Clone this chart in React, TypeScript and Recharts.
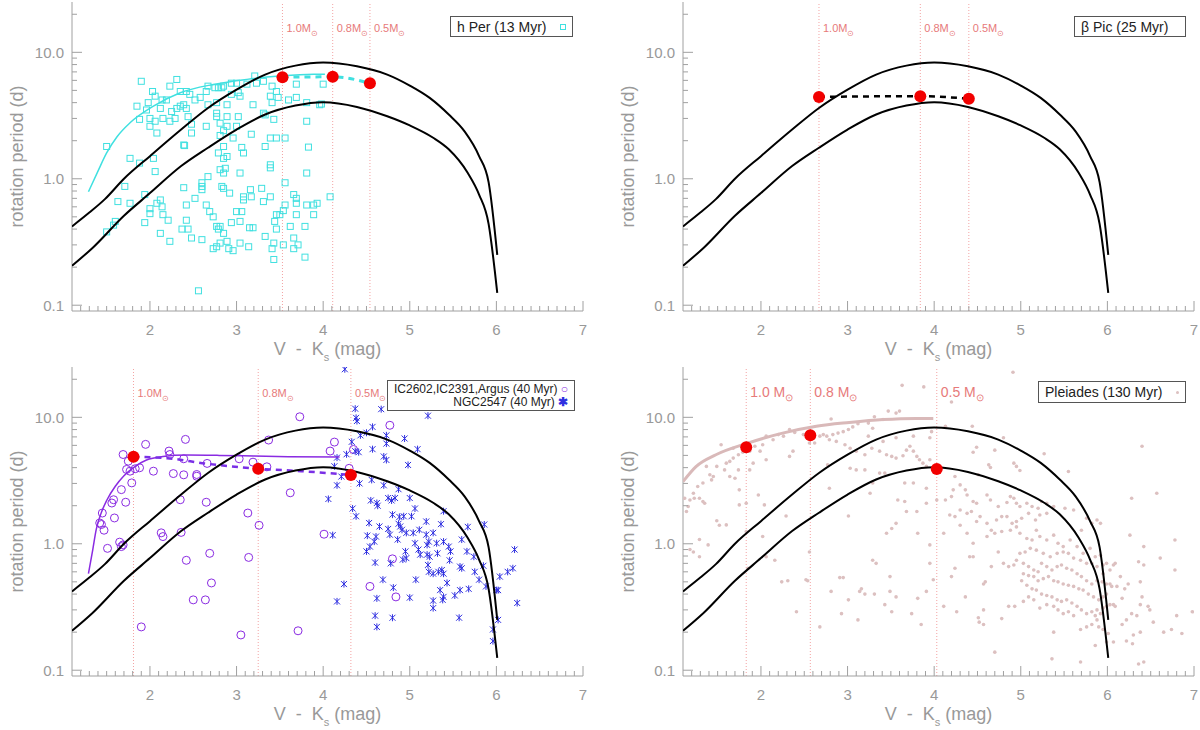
import React from "react";
import { ComposedChart, Scatter, XAxis, YAxis, ReferenceLine, Legend } from "recharts";

type Pt = [number, number];

const X_DOMAIN: [number, number] = [1.1, 7];
const Y_DOMAIN: [number, number] = [0.09, 25];
const X_TICKS = Array.from({ length: 59 }, (_, i) => Math.round((1.2 + i * 0.1) * 10) / 10);
const Y_TICKS = [0.1, 0.2, 0.3, 0.4, 0.5, 0.6, 0.7, 0.8, 0.9, 1, 2, 3, 4, 5, 6, 7, 8, 9, 10, 20];
const Y_MAJOR = [0.1, 1, 10];

// model envelope, same in every panel
const UPPER_ENV: Pt[] = [
  [1.1, 0.42], [1.3, 0.54], [1.48, 0.69], [1.7, 1.0], [2.0, 1.51], [2.36, 2.45], [2.67, 3.63],
  [3.0, 5.07], [3.33, 6.67], [3.68, 7.85], [4.0, 8.3], [4.39, 7.75], [4.74, 6.67], [5.0, 5.46],
  [5.23, 4.36], [5.45, 3.22], [5.63, 2.38], [5.8, 1.51], [5.91, 0.94], [6.01, 0.25],
];
const LOWER_ENV: Pt[] = [
  [1.1, 0.205], [1.34, 0.285], [1.7, 0.51], [2.0, 0.77], [2.36, 1.26], [2.67, 1.76], [3.0, 2.45],
  [3.33, 3.22], [3.68, 3.79], [4.0, 4.03], [4.39, 3.7], [4.74, 3.12], [5.0, 2.64], [5.27, 2.11],
  [5.45, 1.71], [5.67, 1.11], [5.8, 0.75], [5.91, 0.44], [6.01, 0.125],
];

// h Per (13 Myr)
const H_PER: Pt[] = [
  [1.9, 5.9], [2.31, 6.1], [2.03, 4.9], [2.06, 4.5], [2.35, 4.9], [2.42, 4.9], [2.23, 5.4], [2.14, 4.2],
  [2.19, 4.2], [1.98, 4.0], [1.96, 3.5], [1.85, 3.75], [2.12, 3.6], [2.46, 4.65], [2.52, 4.2], [2.39, 3.85],
  [2.31, 3.6], [2.42, 3.6], [2.67, 5.4], [2.65, 4.9], [2.75, 5.25], [2.79, 5.25], [2.83, 5.25], [2.85, 5.4],
  [2.94, 5.7], [3.0, 5.7], [3.02, 4.8], [2.94, 4.65], [3.04, 4.5], [3.12, 5.6], [3.21, 6.5], [3.23, 5.7],
  [3.31, 5.9], [3.41, 5.4], [3.39, 4.5], [3.46, 4.9], [3.41, 4.0], [3.48, 4.4], [3.6, 4.2], [3.69, 4.4],
  [3.69, 5.6], [3.19, 3.85], [2.89, 3.85], [2.77, 4.0], [2.67, 3.85], [2.58, 4.4], [2.25, 3.4], [2.15, 3.0],
  [2.06, 2.85], [2.0, 3.0], [1.88, 2.95], [2.0, 2.6], [2.08, 2.3], [2.23, 2.85], [2.29, 3.0], [2.35, 3.75],
  [2.44, 3.1], [2.48, 2.7], [2.48, 2.3], [2.65, 2.6], [2.77, 3.3], [2.77, 3.1], [2.81, 2.75], [2.89, 3.1],
  [3.02, 3.1], [3.0, 2.6], [2.89, 2.6], [2.85, 2.4], [2.81, 2.2], [2.96, 2.1], [3.17, 2.25], [3.31, 3.3],
  [3.33, 3.2], [3.43, 2.95], [3.39, 2.1], [3.46, 2.1], [3.56, 2.1], [3.81, 2.85], [3.96, 3.85], [3.81, 4.0],
  [2.39, 1.85], [2.4, 1.83], [2.85, 1.8], [3.06, 1.77], [3.33, 1.8], [3.83, 1.78], [1.5, 1.8], [1.77, 1.45],
  [1.88, 1.33], [2.04, 1.45], [2.06, 1.14], [2.79, 1.6], [2.85, 1.45], [2.89, 1.5], [3.08, 1.6], [2.81, 1.18],
  [2.87, 1.21], [2.85, 1.11], [3.04, 1.11], [3.39, 1.29], [3.39, 1.22], [3.81, 1.11], [2.67, 1.04], [1.71, 0.87],
  [1.63, 0.66], [1.77, 0.64], [1.94, 0.75], [2.12, 0.68], [2.08, 0.64], [2.14, 0.6], [2.0, 0.58], [2.0, 0.53],
  [2.15, 0.52], [2.21, 0.47], [1.94, 0.45], [1.6, 0.46], [1.58, 0.43], [1.5, 0.38], [2.12, 0.37], [2.23, 0.32],
  [2.39, 0.85], [2.52, 0.7], [2.6, 0.93], [2.6, 0.87], [2.6, 0.82], [2.65, 0.62], [2.69, 0.55], [2.42, 0.62],
  [2.42, 0.47], [2.37, 0.4], [2.44, 0.4], [2.48, 0.34], [2.6, 0.33], [2.73, 0.5], [2.77, 0.42], [2.83, 0.87],
  [2.85, 0.84], [2.92, 0.77], [3.08, 0.72], [3.08, 0.68], [3.16, 0.82], [3.17, 0.72], [3.29, 0.84], [3.31, 0.66],
  [3.39, 0.72], [3.56, 0.93], [3.66, 0.75], [3.69, 0.7], [3.69, 0.64], [3.56, 0.62], [3.54, 0.56], [3.5, 0.52],
  [3.46, 0.52], [3.44, 0.46], [3.46, 0.4], [3.33, 0.35], [3.19, 0.41], [3.15, 0.41], [3.04, 0.46], [3.0, 0.55],
  [3.06, 0.55], [2.94, 0.45], [2.81, 0.42], [2.79, 0.4], [2.85, 0.37], [2.89, 0.32], [2.81, 0.31], [2.77, 0.29],
  [2.73, 0.28], [2.91, 0.28], [2.96, 0.27], [3.04, 0.31], [3.14, 0.29], [3.43, 0.31], [3.41, 0.28], [3.54, 0.3],
  [3.66, 0.34], [3.71, 0.3], [3.66, 0.28], [3.79, 0.42], [3.89, 0.62], [3.93, 0.64], [3.89, 0.52], [3.81, 0.62],
  [3.69, 0.52], [3.62, 0.42], [4.08, 0.72], [3.79, 0.24], [3.43, 0.23], [2.56, 0.13], [4.0, 5.6], [3.98, 3.9],
];
const H_PER_FIT: Pt[] = [
  [1.29, 0.79], [1.4, 1.15], [1.5, 1.6], [1.62, 2.15], [1.77, 2.77], [2.04, 3.75], [2.35, 4.79],
  [2.73, 5.57], [3.12, 6.11], [3.5, 6.49], [3.89, 6.7], [4.02, 6.7],
];
const H_PER_MASS: Pt[] = [[3.53, 6.36], [4.11, 6.4], [4.54, 5.7]];

// beta Pic (25 Myr)
const BPIC_MASS: Pt[] = [[2.67, 4.44], [3.84, 4.5], [4.4, 4.29]];

// IC2602, IC2391, Argus (40 Myr)
const IC_STARS: Pt[] = [
  [1.69, 5.08], [1.75, 4.5], [1.73, 3.87], [1.77, 3.75], [1.83, 3.92], [1.88, 3.99], [1.95, 6.11], [2.04, 3.75],
  [2.22, 5.41], [2.23, 5.08], [2.39, 4.7], [2.41, 6.69], [2.27, 3.59], [2.39, 3.51], [2.54, 3.42], [2.54, 3.53],
  [2.66, 4.32], [3.03, 4.7], [3.19, 4.42], [3.35, 4.06], [3.37, 6.61], [3.73, 10.1], [4.13, 6.37], [4.08, 5.41],
  [4.77, 8.65], [1.79, 3.03], [1.67, 2.68], [1.58, 2.23], [1.56, 2.1], [1.72, 2.13], [1.45, 1.75], [1.42, 1.46],
  [1.44, 1.42], [1.47, 1.28], [1.59, 1.6], [1.65, 1.03], [1.69, 0.98], [1.67, 0.95], [1.51, 0.92], [2.13, 1.22],
  [2.15, 1.14], [2.35, 2.23], [2.36, 1.23], [2.65, 2.13], [3.13, 1.75], [3.26, 1.4], [3.62, 2.53], [4.01, 1.19],
  [2.42, 0.74], [2.69, 0.84], [3.14, 0.78], [2.71, 0.49], [2.5, 0.36], [2.64, 0.36], [1.9, 0.22], [3.05, 0.19],
  [3.71, 0.205], [4.54, 0.46], [4.84, 0.38], [4.8, 0.76], [4.35, 5.57], [4.3, 3.95],
];
const IC_FIT: Pt[] = [
  [1.29, 0.58], [1.34, 0.9], [1.38, 1.3], [1.43, 1.7], [1.5, 2.2], [1.6, 2.85], [1.7, 3.45], [1.83, 4.1],
  [1.96, 4.6], [2.15, 4.9], [2.42, 5.03], [2.8, 5.0], [3.2, 4.94], [3.6, 4.88], [4.19, 4.85],
];
const IC_MASS: Pt[] = [[1.81, 4.87], [3.25, 3.92], [4.32, 3.5]];
const IC_TRACK: Pt[] = [[1.81, 4.87], [2.2, 4.75], [2.65, 4.3], [3.25, 3.92], [3.75, 3.75], [4.32, 3.5]];

// NGC2547 (40 Myr)
const NGC_STARS: Pt[] = [
  [4.37, 11.7], [4.67, 11.6], [4.38, 9.9], [4.39, 9.35], [5.21, 10.3], [4.57, 8.4], [4.5, 7.55], [4.43, 7.2],
  [4.73, 7.2], [4.94, 6.8], [4.33, 6.4], [4.73, 6.2], [4.57, 5.6], [4.27, 5.1], [4.41, 5.3], [4.37, 5.4],
  [4.7, 4.9], [4.73, 4.6], [4.16, 4.8], [4.13, 4.1], [4.98, 4.2], [5.09, 5.6], [4.21, 3.4], [4.16, 2.9],
  [4.42, 3.0], [4.56, 3.2], [4.7, 2.9], [4.87, 2.7], [5.0, 2.3], [4.55, 2.2], [4.62, 2.1], [4.63, 2.0],
  [4.75, 2.3], [4.79, 2.2], [4.83, 2.3], [5.06, 1.9], [4.34, 1.9], [4.38, 1.65], [4.06, 2.26], [4.11, 1.17],
  [4.53, 1.46], [4.65, 1.37], [4.8, 1.7], [4.88, 1.63], [4.93, 1.65], [5.02, 1.65], [5.19, 1.5], [5.36, 1.43],
  [5.67, 1.36], [5.86, 1.42], [5.39, 1.81], [4.51, 1.16], [4.61, 1.14], [4.59, 1.04], [4.54, 0.95], [4.5, 0.87],
  [4.75, 1.31], [4.77, 1.18], [4.87, 1.44], [4.89, 1.37], [4.91, 1.29], [4.86, 1.08], [4.96, 1.22], [5.04, 1.22],
  [5.11, 1.29], [5.19, 1.18], [5.22, 1.04], [5.2, 0.98], [5.27, 1.22], [5.06, 1.01], [5.1, 0.9], [5.31, 1.01],
  [5.39, 1.04], [5.45, 0.95], [5.47, 0.87], [5.6, 1.08], [5.66, 0.87], [4.95, 0.87], [4.96, 0.77], [4.92, 0.75],
  [5.12, 0.82], [5.2, 0.82], [5.23, 0.79], [5.32, 0.84], [5.46, 0.74], [5.21, 0.68], [5.22, 0.6], [5.27, 0.58],
  [5.33, 0.6], [5.37, 0.62], [5.39, 0.58], [5.58, 0.66], [5.6, 0.64], [5.74, 0.79], [5.75, 0.6], [5.85, 0.67],
  [6.04, 0.55], [6.13, 0.6], [6.19, 0.64], [6.21, 0.9], [5.8, 0.52], [5.88, 0.46], [6.0, 0.43], [6.02, 0.43],
  [5.07, 0.52], [4.6, 0.71], [4.78, 0.7], [4.69, 0.52], [4.81, 0.45], [5.35, 0.43], [5.43, 0.49], [5.52, 0.39],
  [5.58, 0.43], [5.68, 0.44], [5.0, 0.375], [4.62, 0.37], [5.27, 0.355], [5.39, 0.38], [5.38, 0.36], [5.27, 0.31],
  [5.57, 0.26], [6.24, 0.34], [4.24, 0.48], [4.16, 0.35], [4.6, 0.27], [4.8, 0.26], [4.62, 0.22], [5.96, 0.21],
  [6.02, 0.25], [5.96, 0.17], [4.25, 24],
];

// Pleiades (130 Myr)
const PLEIADES: Pt[] = [
  [3.63, 17.9], [3.88, 17.4], [3.47, 11.2], [3.56, 10.8], [3.6, 11.2], [2.81, 9.7], [3.31, 10.1], [3.41, 9.6],
  [3.24, 9.0], [3.12, 8.9], [3.06, 8.4], [3.29, 8.2], [3.01, 8.0], [2.95, 7.7], [2.89, 7.5], [2.83, 7.3],
  [2.76, 7.1], [2.72, 7.3], [2.68, 7.1], [2.79, 6.65], [2.87, 6.45], [2.97, 6.07], [3.03, 5.7], [3.1, 5.4],
  [3.2, 5.06], [3.28, 5.7], [3.37, 5.4], [3.45, 5.06], [3.51, 4.91], [3.56, 4.76], [3.64, 4.97], [3.68, 5.5],
  [3.72, 5.9], [3.76, 5.4], [3.8, 4.91], [3.83, 4.62], [3.87, 4.34], [3.91, 4.09], [3.95, 4.62], [3.97, 7.7],
  [3.95, 6.9], [3.76, 7.1], [3.56, 6.9], [3.41, 6.45], [3.24, 7.1], [2.62, 6.26], [2.49, 7.3], [2.39, 7.6],
  [2.33, 8.0], [2.26, 7.1], [2.2, 7.3], [2.14, 6.65], [2.06, 7.1], [2.02, 6.07], [1.99, 5.4], [1.93, 5.9],
  [1.87, 5.4], [1.79, 5.3], [1.74, 5.06], [1.68, 4.76], [1.64, 4.48], [1.6, 4.34], [1.58, 3.84], [1.54, 6.07],
  [1.68, 5.7], [1.49, 4.09], [1.45, 3.4], [1.43, 3.2], [1.41, 3.51], [1.37, 4.09], [1.33, 3.02], [1.27, 2.84],
  [1.22, 2.51], [1.18, 2.22], [1.16, 1.97], [1.14, 1.8], [1.29, 2.29], [1.33, 2.16], [1.35, 2.09], [1.23, 2.29],
  [1.12, 2.29], [1.64, 3.4], [1.7, 3.3], [1.75, 2.67], [1.74, 3.84], [2.33, 4.91], [2.37, 5.4], [2.56, 6.26],
  [2.06, 4.62], [1.91, 4.34], [1.87, 3.84], [1.97, 2.43], [1.83, 2.09], [1.75, 2.03], [1.6, 1.41], [1.52, 1.4],
  [1.49, 1.52], [1.29, 1.08], [1.39, 0.98], [1.18, 0.9], [1.22, 0.86], [1.29, 0.79], [1.83, 1.25], [1.85, 0.64],
  [2.02, 1.14], [2.06, 0.79], [2.16, 0.74], [2.29, 1.66], [2.04, 2.03], [2.24, 0.5], [2.31, 0.51], [2.41, 0.29],
  [2.52, 0.52], [2.54, 0.51], [2.68, 0.22], [2.81, 0.42], [2.91, 0.54], [2.95, 0.54], [2.93, 0.28], [3.01, 0.36],
  [3.12, 0.25], [3.14, 0.42], [3.16, 0.44], [3.2, 0.4], [3.29, 0.74], [3.33, 0.7], [3.31, 0.4], [3.43, 0.33],
  [3.49, 0.55], [3.49, 0.42], [3.51, 0.29], [3.56, 0.38], [3.74, 0.28], [3.81, 0.37], [3.85, 0.23], [3.91, 0.42],
  [3.99, 0.52], [3.95, 0.7], [3.56, 1.45], [3.51, 1.32], [3.45, 1.21], [3.68, 1.8], [3.66, 2.16], [3.8, 1.8],
  [3.81, 1.21], [3.91, 2.09], [3.91, 2.75], [3.76, 3.02], [3.66, 3.02], [3.58, 2.22], [3.37, 3.62], [3.29, 3.02],
  [3.2, 3.84], [3.03, 3.96], [2.77, 4.21], [2.79, 2.75], [3.01, 1.66], [3.1, 3.84], [3.43, 3.62], [4.03, 2.22],
  [2.56, 0.86], [3.26, 2.51], [3.95, 0.98],
  [4.91, 22.7], [4.2, 13.2], [4.13, 8.5], [4.44, 8.5], [4.49, 5.8], [4.45, 5.3], [4.7, 5.5], [4.8, 6.9],
  [5.27, 5.15], [5.55, 3.73], [4.92, 4.34], [4.99, 3.8], [4.95, 4.09], [4.63, 4.21], [4.65, 4.01], [4.51, 3.51],
  [4.24, 3.4], [4.3, 2.92], [4.22, 2.67], [4.36, 2.67], [4.38, 2.43], [4.2, 2.36], [4.13, 2.22], [4.45, 2.16],
  [4.49, 2.09], [4.61, 2.43], [4.65, 2.22], [4.74, 1.97], [4.84, 2.12], [4.88, 2.36], [4.92, 2.29], [4.95, 2.09],
  [4.99, 1.97], [5.07, 2.09], [5.13, 1.97], [5.2, 1.91], [5.24, 2.16], [5.3, 2.09], [5.38, 1.97], [5.51, 1.91],
  [5.61, 1.85], [5.76, 1.59], [5.82, 1.45], [5.88, 1.54], [5.92, 1.45], [5.7, 1.28], [5.3, 1.74], [5.22, 1.69],
  [5.17, 1.54], [5.09, 1.74], [5.01, 1.59], [4.95, 1.5], [4.9, 1.45], [4.84, 1.64], [4.78, 1.64], [4.72, 1.54],
  [4.66, 1.28], [4.61, 1.45], [4.53, 1.64], [4.49, 1.5], [4.43, 1.8], [4.38, 1.74], [4.3, 1.85], [4.24, 1.64],
  [4.18, 1.69], [4.11, 1.21], [4.3, 1.4], [4.38, 1.21], [4.45, 1.01], [4.61, 1.14], [4.7, 1.21], [4.78, 1.25],
  [4.88, 1.28], [4.95, 1.36], [4.99, 1.21], [5.07, 1.1], [5.13, 1.07], [5.18, 1.28], [5.22, 1.14], [5.3, 1.07],
  [5.38, 1.17], [5.43, 1.01], [5.49, 0.95], [5.57, 1.07], [5.65, 0.95], [5.72, 0.84], [5.8, 0.92], [5.86, 0.79],
  [5.92, 0.81], [5.99, 0.7], [6.07, 0.68], [6.03, 0.62], [5.95, 0.58], [5.88, 0.66], [5.82, 0.7], [5.76, 0.7],
  [5.69, 0.74], [5.61, 0.77], [5.55, 0.84], [5.49, 0.86], [5.42, 0.84], [5.34, 0.79], [5.26, 0.84], [5.18, 0.89],
  [5.11, 0.92], [5.05, 0.86], [4.99, 0.84], [4.95, 0.74], [4.92, 0.68], [4.86, 0.66], [4.8, 0.7], [4.74, 0.86],
  [4.66, 0.66], [4.59, 0.5], [4.57, 0.48], [4.45, 0.79], [4.41, 0.79], [4.36, 0.38], [4.26, 0.29], [4.11, 0.32],
  [4.24, 0.64], [4.2, 0.55], [5.03, 0.7], [5.09, 0.66], [5.15, 0.62], [5.2, 0.6], [5.24, 0.7], [5.3, 0.66],
  [5.36, 0.62], [5.42, 0.66], [5.47, 0.68], [5.53, 0.64], [5.59, 0.62], [5.65, 0.58], [5.7, 0.55], [5.76, 0.51],
  [5.82, 0.48], [5.88, 0.51], [5.94, 0.5], [5.99, 0.48], [6.05, 0.46], [5.99, 0.4], [5.95, 0.38], [5.9, 0.36],
  [5.84, 0.38], [5.78, 0.4], [5.72, 0.43], [5.67, 0.44], [5.61, 0.46], [5.55, 0.47], [5.49, 0.48], [5.43, 0.5],
  [5.38, 0.51], [5.32, 0.55], [5.26, 0.53], [5.2, 0.51], [5.15, 0.55], [5.09, 0.56], [5.03, 0.58], [5.01, 0.51],
  [5.07, 0.47], [5.13, 0.44], [5.18, 0.43], [5.24, 0.4], [5.3, 0.39], [5.36, 0.38], [5.42, 0.36], [5.47, 0.35],
  [5.53, 0.36], [5.59, 0.34], [5.65, 0.32], [5.7, 0.3], [5.76, 0.28], [5.82, 0.29], [5.88, 0.3], [5.92, 0.28],
  [5.95, 0.31], [5.99, 0.32], [6.03, 0.33], [6.09, 0.32], [5.86, 0.27], [5.88, 0.25], [5.9, 0.22], [5.95, 0.21],
  [6.01, 0.195], [5.82, 0.23], [5.76, 0.22], [5.69, 0.21], [5.61, 0.27], [5.55, 0.29], [5.49, 0.28], [5.43, 0.3],
  [5.38, 0.32], [5.3, 0.33], [5.22, 0.31], [5.15, 0.36], [5.09, 0.38], [5.03, 0.35], [4.93, 0.32], [4.86, 0.32],
  [4.78, 0.256], [4.57, 0.3], [4.51, 0.26], [4.52, 0.24], [4.57, 0.23], [4.7, 0.139], [5.38, 0.2], [5.36, 0.123],
  [5.69, 0.116], [5.86, 0.157], [5.99, 0.167], [6.07, 0.167], [6.22, 0.17], [6.29, 0.162], [6.3, 0.19], [6.36, 0.112],
  [6.42, 0.116], [6.38, 0.2], [6.47, 0.32], [6.49, 0.3], [6.53, 0.24], [6.65, 0.2], [6.74, 0.21], [6.8, 0.27],
  [6.86, 0.195], [6.78, 0.62], [6.61, 0.77], [6.42, 0.68], [6.36, 0.72], [6.24, 0.48], [6.2, 0.44], [6.38, 0.5],
  [6.4, 0.38], [6.38, 0.33], [6.28, 0.28], [6.22, 0.25], [6.17, 0.37], [6.07, 0.33], [6.17, 0.23], [6.34, 0.27],
  [6.42, 0.95], [6.26, 1.17], [6.78, 1.07], [6.57, 2.51], [6.28, 2.29], [6.4, 5.9], [6.09, 0.7], [5.95, 0.68],
  [6.03, 0.48], [6.11, 0.46], [6.15, 0.55], [6.98, 0.29],
];
const PLEIADES_FIT: Pt[] = [
  [1.1, 3.1], [1.25, 4.08], [1.48, 5.06], [1.83, 6.2], [2.25, 7.5], [2.64, 8.5], [3.02, 9.1], [3.41, 9.6],
  [3.79, 9.8], [3.99, 9.8],
];
const PLEIADES_MASS: Pt[] = [[1.83, 5.8], [2.57, 7.2], [4.03, 3.9]];

const MASS_NAMES = ["1.0", "0.8", "0.5"];

const AXIS = "#a0a0a0";
const TEXT = "#999";
const FONT = "'Liberation Sans', Arial, sans-serif";
const MASS_COLOR = "#e77a7a";
const CYAN = "#40e0e0";
const PURPLE = "#8a2be2";
const NGC_BLUE = "#2f2fe0";
const PINK = "#dcc0c0";
const PINK_FIT = "#d9b9b9";
const RED = "#f20000";

const pts = (a: Pt[]) => a.map(([x, y]) => ({ x, y }));
const isMajorX = (v: number) => Math.abs(v - Math.round(v)) < 1e-6;

const BottomTick = (p: any) => {
  const v = p.payload.value;
  const major = isMajorX(v);
  return (
    <g>
      <line x1={p.x} x2={p.x} y1={p.y} y2={p.y - (major ? 10 : 5)} stroke={AXIS} />
      {major && (
        <text x={p.x} y={p.y + 24} textAnchor="middle" fontSize={15} fill={TEXT} fontFamily={FONT}>
          {v}
        </text>
      )}
    </g>
  );
};
const TopTick = (p: any) => {
  const major = isMajorX(p.payload.value);
  return <line x1={p.x} x2={p.x} y1={p.y} y2={p.y + (major ? 10 : 5)} stroke={AXIS} />;
};
const LeftTick = (p: any) => {
  const v = p.payload.value;
  const major = Y_MAJOR.includes(v);
  return (
    <g>
      <line x1={p.x} x2={p.x + (major ? 10 : 5)} y1={p.y} y2={p.y} stroke={AXIS} />
      {major && (
        <text x={p.x - 8} y={p.y} dy="0.36em" textAnchor="end" fontSize={15} fill={TEXT} fontFamily={FONT}>
          {v < 1 ? "0.1" : v.toFixed(1)}
        </text>
      )}
    </g>
  );
};
const RightTick = (p: any) => {
  const major = Y_MAJOR.includes(p.payload.value);
  return <line x1={p.x} x2={p.x - (major ? 10 : 5)} y1={p.y} y2={p.y} stroke={AXIS} />;
};

const XTitle = (p: any) => {
  const vb = p.viewBox;
  return (
    <text x={vb.x + vb.width / 2} y={vb.y + 44} textAnchor="middle" fontSize={18} fill={TEXT} fontFamily={FONT}>
      {"V\u00a0\u00a0-\u00a0\u00a0K"}
      <tspan fontSize={11} dy={6}>s</tspan>
      <tspan dy={-6}>{"\u00a0(mag)"}</tspan>
    </text>
  );
};
const YTitle = (p: any) => {
  const vb = p.viewBox;
  const cy = vb.y + vb.height / 2;
  return (
    <text x={17} y={cy} transform={`rotate(-90 17 ${cy})`} textAnchor="middle" dominantBaseline="central" fontSize={18} fill={TEXT} fontFamily={FONT}>
      rotation period (d)
    </text>
  );
};

const square = (p: any) => (
  <rect x={p.cx - 3} y={p.cy - 3} width={6} height={6} fill="none" stroke={CYAN} strokeWidth={1} />
);
const ring = (p: any) => <circle cx={p.cx} cy={p.cy} r={4} fill="none" stroke={PURPLE} strokeWidth={1} />;
const asterisk = (p: any) => (
  <g stroke={NGC_BLUE} strokeWidth={1}>
    <line x1={p.cx - 3} y1={p.cy - 3} x2={p.cx + 3} y2={p.cy + 3} />
    <line x1={p.cx - 3} y1={p.cy + 3} x2={p.cx + 3} y2={p.cy - 3} />
    <line x1={p.cx} y1={p.cy - 3.5} x2={p.cx} y2={p.cy + 3.5} />
  </g>
);
const dot = (p: any) => <circle cx={p.cx} cy={p.cy} r={1.8} fill={PINK} />;
const bigRed = (p: any) => <circle cx={p.cx} cy={p.cy} r={6} fill={RED} />;
const none = () => <g />;

const marks = (key: string, data: Pt[], shape: any) => (
  <Scatter key={key} xAxisId="b" yAxisId="l" data={pts(data)} shape={shape} isAnimationActive={false} />
);
const curve = (key: string, data: Pt[], stroke: string, width: number, dash?: string) => (
  <Scatter
    key={key}
    xAxisId="b"
    yAxisId="l"
    data={pts(data)}
    shape={none}
    line={{ stroke, strokeWidth: width, strokeDasharray: dash, fill: "none" }}
    lineJointType="monotoneX"
    isAnimationActive={false}
  />
);

const legendBox = (left: number, top: number, width: number, height: number, body: React.ReactNode) => (
  <Legend
    layout="vertical"
    align="center"
    verticalAlign="middle"
    wrapperStyle={{ position: "absolute", left, top, width, height, margin: 0 }}
    content={() => (
      <div
        style={{
          boxSizing: "border-box",
          width,
          height,
          border: "1px solid #555",
          background: "#fff",
          fontFamily: FONT,
          color: "#222",
          display: "flex",
          flexDirection: "column",
          justifyContent: "center",
          padding: "0 6px",
        }}
      >
        {body}
      </div>
    )}
  />
);

function Panel({
  left,
  top,
  masses,
  massSpaced,
  legend,
  children,
}: {
  left: number;
  top: number;
  masses: Pt[];
  massSpaced?: boolean;
  legend: React.ReactNode;
  children: React.ReactNode[];
}) {
  return (
    <div style={{ position: "absolute", left, top }}>
      <ComposedChart width={600} height={365} margin={{ top: 2, right: 17, bottom: 0, left: 0 }}>
        <XAxis
          xAxisId="b"
          type="number"
          dataKey="x"
          domain={X_DOMAIN}
          allowDataOverflow
          ticks={X_TICKS}
          interval={0}
          tick={BottomTick}
          tickLine={false}
          tickSize={0}
          tickMargin={0}
          axisLine={{ stroke: AXIS }}
          height={54}
          label={{ content: XTitle }}
        />
        <XAxis
          xAxisId="t"
          orientation="top"
          type="number"
          domain={X_DOMAIN}
          allowDataOverflow
          ticks={X_TICKS}
          interval={0}
          tick={TopTick}
          tickLine={false}
          tickSize={0}
          tickMargin={0}
          axisLine={{ stroke: AXIS }}
          height={0}
        />
        <YAxis
          yAxisId="l"
          type="number"
          dataKey="y"
          scale="log"
          domain={Y_DOMAIN}
          allowDataOverflow
          ticks={Y_TICKS}
          interval={0}
          tick={LeftTick}
          tickLine={false}
          tickSize={0}
          tickMargin={0}
          axisLine={{ stroke: AXIS }}
          width={72}
          label={{ content: YTitle }}
        />
        <YAxis
          yAxisId="r"
          orientation="right"
          type="number"
          scale="log"
          domain={Y_DOMAIN}
          allowDataOverflow
          ticks={Y_TICKS}
          interval={0}
          tick={RightTick}
          tickLine={false}
          tickSize={0}
          tickMargin={0}
          axisLine={{ stroke: AXIS }}
          width={0}
        />
        {masses.map(([mx], i) => (
          <ReferenceLine
            key={`m${i}`}
            xAxisId="b"
            yAxisId="l"
            x={mx}
            stroke="#f3a3a3"
            strokeWidth={1}
            strokeDasharray="1 2"
            label={{
              content: (lp: any) => (
                <text
                  x={lp.viewBox.x + 4}
                  y={lp.viewBox.y + 30}
                  fontSize={massSpaced ? 14 : 11}
                  fill={MASS_COLOR}
                  fontFamily={FONT}
                >
                  {MASS_NAMES[i] + (massSpaced ? "\u00a0M" : "M")}
                  <tspan fontSize={massSpaced ? 10 : 8} dy={4}>
                    {"\u2299"}
                  </tspan>
                </text>
              ),
            }}
          />
        ))}
        {children}
        {curve("env-up", UPPER_ENV, "#000", 2)}
        {curve("env-lo", LOWER_ENV, "#000", 2)}
        {marks("mass", masses, bigRed)}
        {legend}
      </ComposedChart>
    </div>
  );
}

export default function App() {
  return (
    <div style={{ position: "fixed", left: 0, top: 0, width: 1200, height: 730, background: "#fff" }}>
      <Panel
        left={0}
        top={0}
        masses={H_PER_MASS}
        legend={legendBox(
          450,
          16,
          123,
          21,
          <div style={{ fontSize: 14, display: "flex", alignItems: "center", justifyContent: "space-between" }}>
            <span>h Per (13 Myr)</span>
            <span style={{ width: 6, height: 6, border: `1px solid ${CYAN}`, boxSizing: "border-box" }} />
          </div>
        )}
      >
        {[
          marks("hper", H_PER, square),
          curve("hper-fit", H_PER_FIT, CYAN, 1.5),
          curve("hper-track", H_PER_MASS, CYAN, 3, "6 5"),
        ]}
      </Panel>
      <Panel
        left={611}
        top={0}
        masses={BPIC_MASS}
        legend={legendBox(463, 16, 112, 21, <div style={{ fontSize: 14 }}>β Pic (25 Myr)</div>)}
      >
        {[curve("bpic-track", BPIC_MASS, "#000", 2.5, "6 5")]}
      </Panel>
      <Panel
        left={0}
        top={365}
        masses={IC_MASS}
        legend={legendBox(
          387,
          15,
          188,
          31,
          <div style={{ fontSize: 12, lineHeight: "13px", textAlign: "right" }}>
            <div>
              IC2602,IC2391,Argus (40 Myr) <span style={{ color: PURPLE }}>○</span>
            </div>
            <div>
              NGC2547 (40 Myr) <span style={{ color: NGC_BLUE, fontWeight: "bold" }}>✱</span>
            </div>
          </div>
        )}
      >
        {[
          marks("ic", IC_STARS, ring),
          marks("ngc", NGC_STARS, asterisk),
          curve("ic-fit", IC_FIT, PURPLE, 1.5),
          curve("ic-track", IC_TRACK, "#7a2fe6", 2.5, "6 5"),
        ]}
      </Panel>
      <Panel
        left={611}
        top={365}
        masses={PLEIADES_MASS}
        massSpaced
        legend={legendBox(
          427,
          16,
          148,
          22,
          <div style={{ fontSize: 14, display: "flex", alignItems: "center", justifyContent: "space-between" }}>
            <span>Pleiades (130 Myr)</span>
            <span style={{ width: 3, height: 3, borderRadius: 2, background: PINK }} />
          </div>
        )}
      >
        {[marks("pl", PLEIADES, dot), curve("pl-fit", PLEIADES_FIT, PINK_FIT, 3)]}
      </Panel>
    </div>
  );
}
